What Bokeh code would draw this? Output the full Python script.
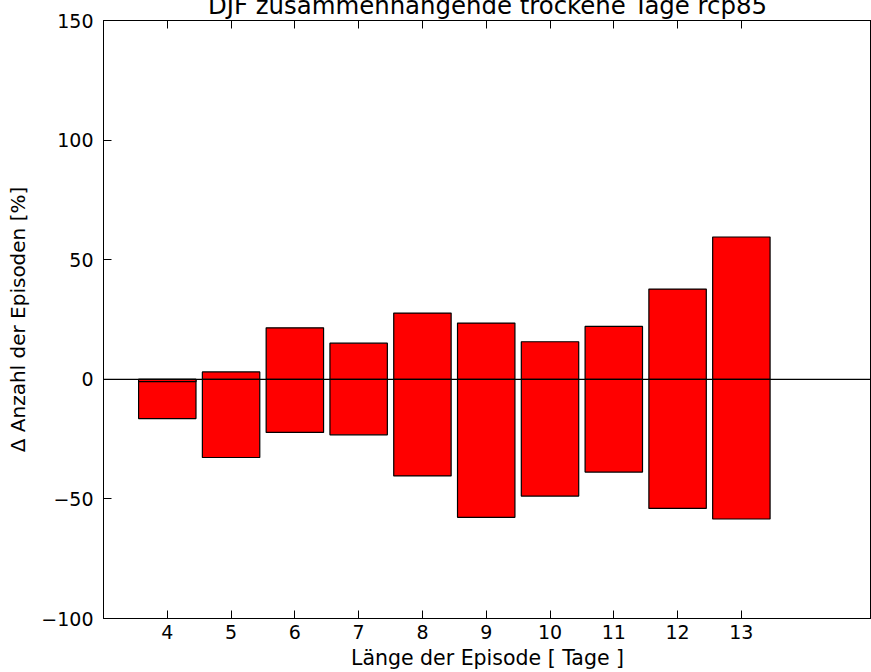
from bokeh.plotting import figure
from bokeh.models import Range1d, FixedTicker, LinearAxis, Span
from bokeh.embed import file_html
from bokeh.resources import INLINE

days = [4, 5, 6, 7, 8, 9, 10, 11, 12, 13]
upper = [-1.0, 3.1, 21.5, 15.1, 27.7, 23.5, 15.7, 22.1, 37.7, 59.5]
lower = [-16.4, -32.7, -22.2, -23.2, -40.4, -57.7, -48.8, -38.8, -54.0, -58.4]
y_ticks = [-100, -50, 0, 50, 100, 150]
y_labels = {t: (str(t).replace("-", "\u2212")) for t in y_ticks}
title_text = "DJF zusammenhängende trockene Tage rcp85"
x_label = "Länge der Episode [ Tage ]"
y_label = "\u0394 Anzahl der Episoden [%]"

FONT = "DejaVu Sans"

p = figure(width=871, height=672, output_backend="svg", toolbar_location=None,
           x_range=Range1d(3, 15.04), y_range=Range1d(-100, 150),
           min_border_left=103, min_border_right=0, min_border_top=20, min_border_bottom=54,
           title=title_text + "\n")
p.title.text_font = FONT
p.title.text_font_size = "24.4px"
p.title.text_font_style = "normal"
p.title.text_color = "black"
p.title.align = "center"
p.title.standoff = -56
p.title.offset = 0

p.grid.visible = False
p.background_fill_color = "white"
p.outline_line_color = "black"
p.outline_line_width = 1

p.vbar(x=days, width=0.9, bottom=0, top=lower, fill_color="#ff0000",
       line_color="black", line_width=1.2)
p.vbar(x=days, width=0.9, bottom=0, top=upper, fill_color="#ff0000",
       line_color="black", line_width=1.2)

p.add_layout(Span(location=0, dimension="width", line_color="black", line_width=1.2))

xa = p.xaxis[0]
xa.ticker = FixedTicker(ticks=days)
xa.major_tick_in = 8
xa.major_tick_out = 0
xa.minor_tick_line_color = None
xa.major_label_standoff = 6
xa.major_label_text_font = FONT
xa.major_label_text_font_size = "19px"
xa.major_label_text_color = "black"
xa.axis_label = x_label
xa.axis_label_text_font = FONT
xa.axis_label_text_font_size = "20.5px"
xa.axis_label_text_font_style = "normal"
xa.axis_label_text_color = "black"
xa.axis_label_standoff = 4
xa.axis_line_color = "black"

ya = p.yaxis[0]
ya.ticker = FixedTicker(ticks=y_ticks)
ya.major_label_overrides = y_labels
ya.major_tick_in = 8
ya.major_tick_out = 0
ya.minor_tick_line_color = None
ya.major_label_standoff = 10
ya.major_label_text_font = FONT
ya.major_label_text_font_size = "19px"
ya.major_label_text_color = "black"
ya.axis_label = y_label
ya.axis_label_text_font = FONT
ya.axis_label_text_font_size = "20px"
ya.axis_label_text_font_style = "normal"
ya.axis_label_text_color = "black"
ya.axis_label_standoff = 8
ya.axis_line_color = "black"

top_axis = LinearAxis(ticker=FixedTicker(ticks=days), major_tick_in=8, major_tick_out=0,
                      minor_tick_line_color=None, major_label_text_font_size="0px",
                      major_label_standoff=0, axis_line_color="black")
p.add_layout(top_axis, "above")

open("out.html", "w").write(file_html(p, INLINE))
